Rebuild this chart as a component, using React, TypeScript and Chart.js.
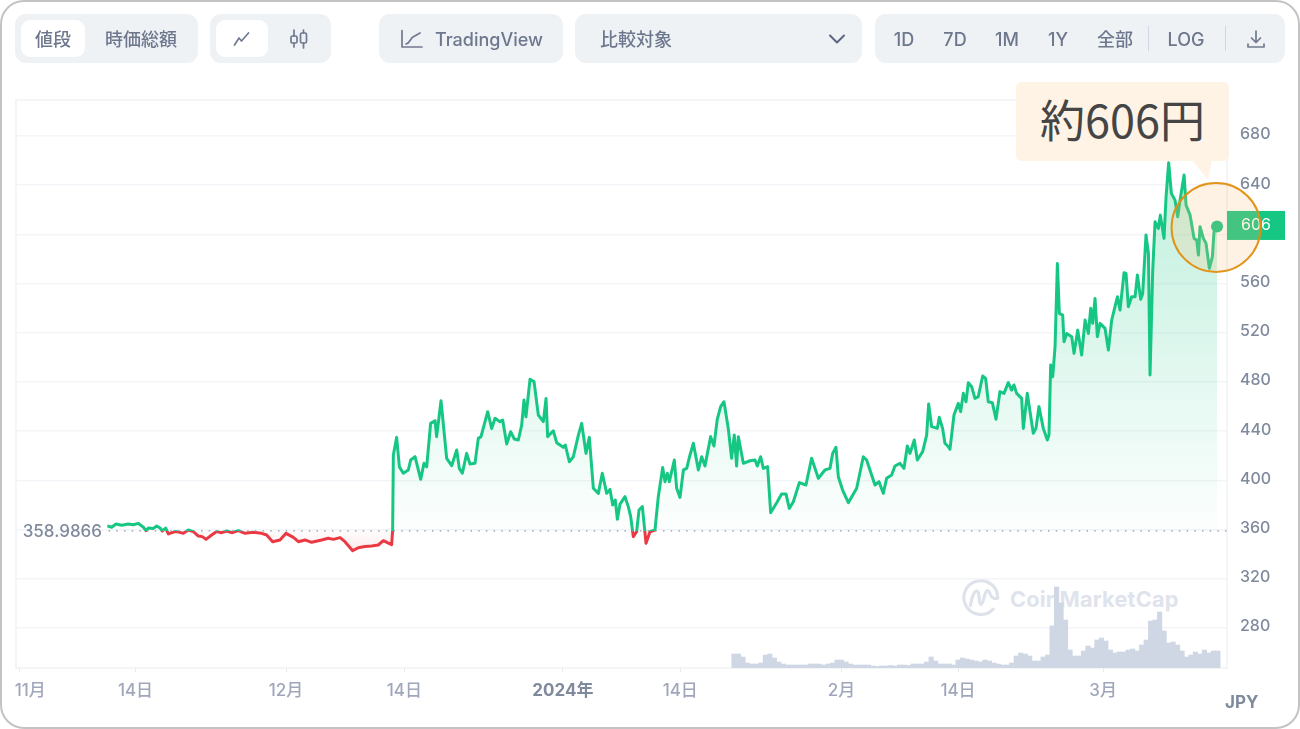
import React, { useEffect, useRef } from "react";
import { Chart, registerables } from "chart.js";

Chart.register(...registerables);

const FONT = "Inter, 'Noto Sans CJK JP', sans-serif";

const baselinePrice = 358.9866;
const baselineLabel = "358.9866";
const lastPriceLabel = "606";
const calloutText = "約606円";
const currencyLabel = "JPY";

const priceTicks = [280, 320, 360, 400, 440, 480, 520, 560, 600, 640, 680];
const priceTickLabels = ["280", "320", "360", "400", "440", "480", "520", "560", "", "640", "680"];

// days since 1 Nov; entry at 0 only carries the tick mark, the next one carries the label
const dateTickDays = [0, 1.25, 13, 29.8, 43, 60.7, 73.8, 91.8, 104.8, 121];
const dateTickLabels = ["", "11月", "14日", "12月", "14日", "2024年", "14日", "2月", "14日", "3月"];

const priceDays = [
  9.86, 10.34, 10.83, 11.46, 12.2, 12.76, 13.32, 13.88, 14.17, 14.44, 15, 15.37, 15.74, 16, 16.37, 16.67, 17.41, 17.97, 18.34, 18.9,
  19.46, 20.02, 20.46, 20.87, 21.5, 22.06, 22.62, 23.18, 23.74, 24.48, 25.22, 26.15, 27.08, 27.64, 28.31, 29.13, 29.8, 30.62, 31.18, 31.92,
  32.66, 33.78, 34.52, 35.08, 35.83, 36.38, 37.24, 37.87, 38.61, 39.36, 40.1, 40.66, 41.11, 41.59, 41.7, 41.78, 42.15, 42.45, 42.89, 43.45,
  43.71, 44.2, 44.83, 45.2, 45.5, 45.94, 46.43, 46.61, 47.1, 47.73, 48.29, 48.85, 49.14, 49.48, 49.96, 50.33, 50.89, 51.26, 51.56, 52.01,
  52.31, 52.75, 53.13, 53.68, 53.98, 54.43, 54.87, 55.28, 55.73, 56.1, 56.36, 56.58, 57.03, 57.48, 57.96, 58.52, 58.82, 59.0, 59.63, 60.01,
  60.38, 60.75, 60.97, 61.42, 61.87, 62.43, 62.8, 63.28, 63.65, 64.1, 64.66, 65.1, 65.59, 65.96, 66.26, 66.55, 66.78, 67.08, 67.63, 68.0,
  68.27, 68.56, 68.93, 69.2, 69.57, 69.98, 70.42, 70.98, 71.35, 71.84, 72.1, 72.36, 72.58, 73.14, 73.4, 73.77, 74.15, 74.52, 74.89, 75.26,
  75.82, 76.19, 76.56, 77.19, 77.56, 77.93, 78.31, 78.68, 79.16, 79.53, 79.83, 80.09, 80.28, 80.84, 81.58, 82.14, 82.4, 82.77, 83.07, 83.55,
  83.89, 84.63, 85.11, 85.6, 85.97, 86.42, 87.09, 87.83, 88.46, 89.21, 89.95, 90.51, 90.81, 91.18, 91.44, 91.92, 92.56, 93.49, 94.23, 94.6,
  95.53, 95.98, 96.46, 96.83, 97.39, 97.76, 98.32, 98.77, 99.14, 99.44, 99.92, 100.26, 100.85, 101.3, 101.52, 101.86, 102.49, 102.71, 103.08, 103.34,
  103.72, 103.9, 104.35, 104.83, 105.09, 105.39, 105.69, 105.95, 106.32, 106.69, 107.06, 107.55, 107.88, 108.18, 108.63, 109.04, 109.48, 109.93, 110.41, 110.78,
  111.04, 111.34, 111.9, 112.09, 112.53, 113.2, 113.5, 113.83, 114.32, 114.77, 114.95, 115.14, 115.37, 115.63, 115.89, 116.11, 116.48, 116.63, 116.93, 117.49,
  117.75, 118.16, 118.6, 118.98, 119.35, 119.61, 119.83, 120.09, 120.35, 120.65, 121.21, 121.58, 121.95, 122.59, 122.88, 123.33, 123.55, 123.81, 124.18, 124.56,
  124.82, 125.19, 125.41, 125.78, 126.05, 126.23, 126.53, 126.79, 127.16, 127.38, 127.79, 128.02, 128.31, 128.61, 129.02, 129.32, 129.58, 130.03, 130.25, 130.7,
  131.14, 131.44, 131.63, 131.81, 132.18, 132.48, 132.85, 133.19, 133.37, 133.71,
];

const priceValues = [
  363, 361.9, 364.6, 363.5, 364.6, 364, 365.1, 361.9, 359.2, 361.3, 361, 363, 361.3, 358.9, 361.3, 356.5, 358.4, 357.8, 357, 359.7,
  358.4, 354.8, 354.3, 352.1, 355.6, 358.4, 357.5, 358.9, 357.5, 359.2, 357, 357.8, 357, 355.6, 350.2, 351.6, 357, 353.7, 350.2, 351.6,
  349.7, 351.6, 353, 352.1, 353.5, 350.2, 342.9, 345.3, 346.2, 346.7, 347.5, 351, 349.4, 347.8, 359.7, 420.7, 435, 411, 405.8, 408.5,
  416.6, 419.3, 400.9, 413.9, 411, 446.4, 448.6, 435.6, 464.8, 418, 412, 424.7, 409.8, 405.8, 422, 413.3, 413.9, 434.2, 435.6, 447.8,
  455.9, 442.3, 450.5, 447.8, 449.1, 429.6, 439.6, 433.7, 432.9, 445, 465.4, 451.8, 482.2, 480.3, 453.2, 447.8, 466.7, 435.6, 440.4, 430.7,
  428.8, 426.9, 428.8, 415.2, 419.3, 436.9, 446.4, 422, 435, 393.6, 389.5, 405.8, 389.5, 392.7, 380, 384.1, 368.4, 380.8, 386.8, 378.7,
  370.5, 354.3, 358.3, 376, 378.7, 348.9, 358.3, 359.7, 386.8, 410.6, 399, 405.8, 399, 416.6, 393.6, 386.2, 408.5, 409.8, 420.7, 430.2,
  408.5, 419.3, 411.7, 435.6, 428, 449.7, 460, 464, 442.3, 418, 436.9, 411.7, 435.6, 413.9, 416, 416.6, 411.7, 419.3, 409.8, 411.2,
  373.8, 382.7, 389, 389, 377.3, 382.7, 398.2, 396.3, 418, 401.7, 408.5, 409.8, 422, 426.9, 403, 392.2, 381.9, 393.6, 419.3, 416.6,
  396.3, 399, 389.5, 401.7, 404.4, 411.7, 413.9, 409.8, 428, 422, 432.9, 416.6, 423.4, 436.9, 462.1, 443.7, 442.3, 451.3, 442.3, 430.2,
  427.4, 425.3, 453.2, 462.7, 455.9, 470.8, 464, 479.5, 476.2, 466.7, 468.1, 484.9, 483, 464, 463.2, 449.7, 472.2, 470.8, 479.5, 473.5,
  477.6, 470.8, 466.7, 442.3, 470.8, 438.3, 442.3, 460, 442.3, 432.9, 436.9, 493.8, 484.3, 508.7, 576.4, 535.8, 534.4, 512.8, 519.5, 516.8,
  503.3, 522.2, 502, 530.4, 519.5, 539.9, 527.7, 548, 516.8, 527.7, 523.6, 506, 530.4, 549.3, 538.5, 568.9, 568.3, 541.2, 549.3, 549.3,
  567, 547.2, 552, 599.5, 584.6, 485.7, 571, 610.3, 604.9, 615.7, 596.8, 630.6, 658.3, 633.4, 627.9, 614.4, 627.9, 648.3, 623.9, 615.7,
  596.8, 595.4, 583.2, 606.3, 596.8, 592.7, 572.4, 581.9, 602.2, 606.5,
];

const volumeFirstDay = 79.8;
const volumeStepDays = 0.5;
const volumeValues = [
  14, 14, 11, 5, 4, 4, 5, 13, 14, 10, 6, 4, 3, 3, 3, 3, 3, 4, 4, 4,
  3, 4, 5, 8, 8, 6, 4, 3, 3, 3, 3, 2, 1.5, 2, 2, 2.5, 2, 3, 3, 2.5,
  4, 4, 4, 6, 11, 7, 4, 4, 4, 3, 8, 10, 9, 8, 7, 6, 8, 7, 5, 4,
  3, 3, 5, 12, 15, 14, 12, 7, 7, 11, 13, 42, 81, 65, 48, 18, 12, 12, 17, 22,
  20, 28, 30, 27, 18, 15, 16, 16, 18, 19, 17, 23, 28, 47, 48, 56, 37, 25, 26, 23,
  17, 11, 13, 16, 14, 18, 15, 17, 17,
];

const volumeAxisMax = 568;

const rangeLabels = ["1D", "7D", "1M", "1Y", "全部"];

const GREEN = "#16c784";
const RED = "#ea3943";
const AXIS = "#808a9d";
const XTICK = "#a1a7bb";
const GRID = "#f4f5f8";

const chromePlugin = {
  id: "chrome",
  beforeDatasetsDraw(chart: any) {
    const { ctx, chartArea: a } = chart;
    ctx.save();
    ctx.strokeStyle = "#eff2f5";
    ctx.lineWidth = 1.5;
    ctx.strokeRect(a.left, a.top, a.right - a.left, a.bottom - a.top);
    ctx.restore();
  },
  afterDraw(chart: any) {
    const { ctx, scales } = chart;
    const a = chart.chartArea;
    const n = priceValues.length - 1;
    const px = scales.x.getPixelForValue(priceDays[n]);
    const py = scales.y.getPixelForValue(priceValues[n]);
    const by = scales.y.getPixelForValue(baselinePrice);
    ctx.save();
    // baseline value label
    ctx.font = `500 17px ${FONT}`;
    ctx.fillStyle = AXIS;
    ctx.textAlign = "right";
    ctx.textBaseline = "middle";
    ctx.fillText(baselineLabel, 102, by + 1);
    // current price tag
    ctx.fillStyle = GREEN;
    ctx.fillRect(a.right, py - 15.5, 58, 29);
    ctx.fillStyle = "#ffffff";
    ctx.textAlign = "left";
    ctx.font = `400 16px ${FONT}`;
    ctx.fillText(lastPriceLabel, a.right + 14, py - 1);
    // highlight ring
    ctx.beginPath();
    ctx.arc(px - 1, py + 1, 44.5, 0, Math.PI * 2);
    ctx.fillStyle = "rgba(250,190,120,0.2)";
    ctx.fill();
    ctx.lineWidth = 2;
    ctx.strokeStyle = "rgba(226,142,16,0.95)";
    ctx.stroke();
    // currency
    ctx.fillStyle = AXIS;
    ctx.font = `700 17px ${FONT}`;
    ctx.textAlign = "left";
    ctx.fillText(currencyLabel, 1225, 703);
    ctx.restore();
  },
};

const Group = ({ left, width, children }: any) => (
  <div
    style={{
      position: "absolute",
      left,
      top: 14,
      width,
      height: 49,
      background: "#eff2f5",
      borderRadius: 11,
    }}
  >
    {children}
  </div>
);

const Label = ({ cx, children, color = "#6d778d", size = 18 }: any) => (
  <span
    style={{
      position: "absolute",
      left: cx - 60,
      width: 120,
      top: 1,
      lineHeight: "49px",
      textAlign: "center",
      fontSize: size,
      fontWeight: 500,
      color,
      whiteSpace: "nowrap",
    }}
  >
    {children}
  </span>
);

const Pill = ({ left, width }: any) => (
  <div style={{ position: "absolute", left, top: 6, width, height: 37, background: "#fff", borderRadius: 9 }} />
);

const Icon = ({ left, top, w, h, children }: any) => (
  <svg
    width={w}
    height={h}
    viewBox={`0 0 ${w} ${h}`}
    style={{ position: "absolute", left, top }}
    fill="none"
    stroke="#707a90"
    strokeWidth={1.7}
    strokeLinecap="round"
    strokeLinejoin="round"
  >
    {children}
  </svg>
);

export default function App() {
  const ref = useRef<HTMLCanvasElement | null>(null);

  useEffect(() => {
    const canvas = ref.current!;
    const chart: any = new Chart(canvas, {
      type: "line",
      data: {
        datasets: [
          {
            type: "line",
            data: priceDays.map((d, i) => ({ x: d, y: priceValues[i] })),
            yAxisID: "y",
            borderColor: GREEN,
            borderWidth: 3,
            tension: 0,
            borderJoinStyle: "round",
            pointRadius: (c: any) => (c.dataIndex === priceValues.length - 1 ? 6 : 0),
            pointBackgroundColor: GREEN,
            pointBorderWidth: 0,
            pointHoverRadius: 0,
            order: 1,
          },
          {
            type: "line",
            data: [
              { x: 10, y: baselinePrice },
              { x: 134.82, y: baselinePrice },
            ],
            yAxisID: "y",
            borderColor: "#8d96aa",
            borderWidth: 1.4,
            borderDash: [1.5, 6.2],
            pointRadius: 0,
            fill: false,
            order: 0,
          },
          {
            type: "bar",
            data: volumeValues.map((v, i) => ({ x: volumeFirstDay + i * volumeStepDays, y: v })),
            yAxisID: "v",
            backgroundColor: "#cfd6e4",
            barThickness: 4.5,
            order: 2,
          },
        ],
      },
      options: {
        animation: false,
        responsive: false,
        devicePixelRatio: 1,
        parsing: { xAxisKey: "x", yAxisKey: "y" },
        layout: { padding: { left: 16, top: 100, right: 0, bottom: 0 } },
        plugins: { legend: { display: false }, tooltip: { enabled: false } },
        scales: {
          x: {
            type: "linear",
            offset: false,
            min: -0.335,
            max: 134.82,
            afterBuildTicks: (s: any) => {
              s.ticks = dateTickDays.map((value) => ({ value }));
            },
            afterFit: (s: any) => {
              s.height = 61;
            },
            grid: {
              offset: false,
              drawOnChartArea: false,
              drawTicks: true,
              tickLength: 4,
              tickColor: (c: any) => (c.index === 1 ? "rgba(0,0,0,0)" : "#e6e9ef"),
            },
            border: { display: false },
            ticks: {
              autoSkip: false,
              maxRotation: 0,
              padding: 9,
              callback: (_v: any, i: number) => dateTickLabels[i],
              color: (c: any) => (c.index === 5 ? AXIS : XTICK),
              font: (c: any) => ({ family: FONT, size: 17, weight: c.index === 5 ? 700 : 500 }),
            },
          },
          y: {
            position: "right",
            min: 247.5,
            max: 709.3,
            afterBuildTicks: (s: any) => {
              s.ticks = priceTicks.map((value) => ({ value }));
            },
            afterFit: (s: any) => {
              s.width = 73;
            },
            grid: { color: GRID, lineWidth: 1.5, drawTicks: false },
            border: { display: false },
            ticks: {
              padding: 13,
              labelOffset: -1.5,
              color: AXIS,
              font: { family: FONT, size: 16, weight: 500 },
              callback: (_v: any, i: number) => priceTickLabels[i],
            },
          },
          v: { display: false, min: 0, max: volumeAxisMax },
        },
      } as any,
      plugins: [chromePlugin],
    } as any);

    const area = chart.chartArea;
    const by = chart.scales.y.getPixelForValue(baselinePrice);
    const ctx = canvas.getContext("2d")!;
    const stop = (by - area.top) / (area.bottom - area.top);
    const stroke = ctx.createLinearGradient(0, area.top, 0, area.bottom);
    stroke.addColorStop(0, GREEN);
    stroke.addColorStop(stop, GREEN);
    stroke.addColorStop(stop, RED);
    stroke.addColorStop(1, RED);
    const above = ctx.createLinearGradient(0, chart.scales.y.getPixelForValue(660), 0, by);
    above.addColorStop(0, "rgba(22,199,132,0.28)");
    above.addColorStop(1, "rgba(22,199,132,0.01)");
    const below = ctx.createLinearGradient(0, by, 0, chart.scales.y.getPixelForValue(340));
    below.addColorStop(0, "rgba(234,57,67,0.01)");
    below.addColorStop(1, "rgba(234,57,67,0.12)");
    const ds = chart.data.datasets[0];
    ds.borderColor = stroke;
    ds.fill = { target: { value: baselinePrice }, above, below };
    chart.update("none");

    return () => chart.destroy();
  }, []);

  return (
    <div
      style={{
        position: "fixed",
        left: 0,
        top: 0,
        width: 1300,
        height: 729,
        overflow: "hidden",
        background: "#fff",
        fontFamily: FONT,
      }}
    >
      {/* watermark sits under the chart */}
      <svg
        width={38}
        height={38}
        viewBox="0 0 36 36"
        style={{ position: "absolute", left: 962, top: 579 }}
        fill="none"
        stroke="#dde2eb"
        strokeWidth={3}
        strokeLinecap="round"
      >
        <path d="M29.5 28.5 A16 16 0 1 1 33.8 18" />
        <path d="M8 25 C10 13 13 10 15 12 C17 14 15.5 24 18 24 C20.5 24 21 12 24 11 C27 10 26 21 33.8 18" />
      </svg>
      <div
        style={{
          position: "absolute",
          left: 1010,
          top: 583,
          fontSize: 21.7,
          lineHeight: "32px",
          fontWeight: 700,
          color: "#dfe3ec",
          letterSpacing: 0.2,
          whiteSpace: "nowrap",
        }}
      >
        CoinMarketCap
      </div>

      <canvas
        ref={ref}
        width={1300}
        height={729}
        style={{ position: "absolute", left: 0, top: 0, width: 1300, height: 729 }}
      />

      <Group left={15} width={183}>
        <Pill left={6} width={64} />
        <Label cx={38}>値段</Label>
        <Label cx={126}>時価総額</Label>
      </Group>

      <Group left={210} width={121}>
        <Pill left={6} width={52} />
        <Icon left={23} top={17} w={18} h={16}>
          <path d="M1.5 14 L6 7 L8.5 10 L15.5 2" />
        </Icon>
        <Icon left={79} top={14} w={20} h={22}>
          <line x1="5" y1="2" x2="5" y2="8" />
          <rect x="2" y="8" width="6" height="7" rx="1.5" />
          <line x1="5" y1="15" x2="5" y2="19" />
          <line x1="14.5" y1="2" x2="14.5" y2="5" />
          <rect x="11.5" y="5" width="6" height="10" rx="1.5" />
          <line x1="14.5" y1="15" x2="14.5" y2="20" />
        </Icon>
      </Group>

      <Group left={379} width={184}>
        <Icon left={21} top={15} w={24} h={20}>
          <path d="M2 1.5 V18 H22" />
          <path d="M6 15 C10 14 10 10 13 8 L20 4" />
        </Icon>
        <Label cx={110}>TradingView</Label>
      </Group>

      <Group left={575} width={287}>
        <span
          style={{
            position: "absolute",
            left: 25,
            top: 1,
            lineHeight: "49px",
            fontSize: 18,
            fontWeight: 500,
            color: "#6d778d",
          }}
        >
          比較対象
        </span>
        <Icon left={253} top={19} w={18} h={12}>
          <path d="M2 2.5 L9 9.5 L16 2.5" stroke="#58667e" strokeWidth={2} />
        </Icon>
      </Group>

      <Group left={875} width={410}>
        {[29, 80, 132, 183, 240].map((cx, i) => (
          <Label key={i} cx={cx}>
            {rangeLabels[i]}
          </Label>
        ))}
        <div style={{ position: "absolute", left: 273, top: 12, width: 1, height: 25, background: "#cfd6e4" }} />
        <Label cx={311}>LOG</Label>
        <div style={{ position: "absolute", left: 350, top: 12, width: 1, height: 25, background: "#cfd6e4" }} />
        <Icon left={371} top={15} w={20} h={20}>
          <path d="M10 2 V13 M5.5 9 L10 13.5 L14.5 9" />
          <path d="M2 15 V18 H18 V15" />
        </Icon>
      </Group>

      {/* callout */}
      <div
        style={{
          position: "absolute",
          left: 1016,
          top: 82,
          width: 213,
          height: 79,
          background: "#fff3e6",
          borderRadius: 5,
          textAlign: "center",
          lineHeight: "73px",
          fontSize: 45,
          color: "#454545",
          fontFamily: "'Noto Sans CJK JP', sans-serif",
          whiteSpace: "nowrap",
        }}
      >
        {calloutText}
      </div>
      <svg width={30} height={22} style={{ position: "absolute", left: 1190, top: 160 }}>
        <path d="M2 0 L22 0 L18 20 Z" fill="#fff3e6" />
      </svg>

      {/* card frame */}
      <div
        style={{
          position: "absolute",
          inset: 0,
          boxSizing: "border-box",
          border: "2.5px solid #c3c3c3",
          borderRadius: 24,
          pointerEvents: "none",
        }}
      />
    </div>
  );
}
